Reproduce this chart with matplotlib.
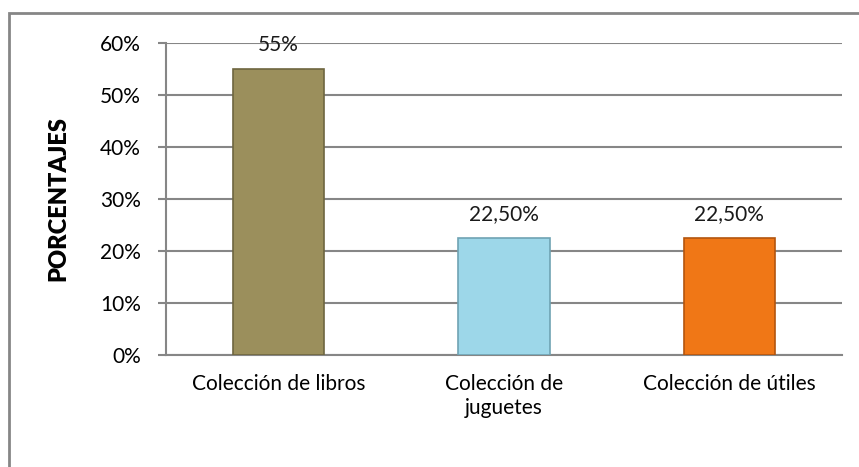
import matplotlib
matplotlib.use("Agg")
import matplotlib.pyplot as plt
from matplotlib.patches import Rectangle

categories = ["Colección de libros", "Colección de\njuguetes", "Colección de útiles"]
values = [55, 22.5, 22.5]
value_labels = ["55%", "22,50%", "22,50%"]
yticks = [0, 10, 20, 30, 40, 50, 60]
ytick_labels = ["0%", "10%", "20%", "30%", "40%", "50%", "60%"]
colors = ["#9B8F5C", "#9DD7E9", "#F07716"]
edge_colors = ["#6E6640", "#6FA3B3", "#B3550E"]

plt.rcParams['font.family'] = ['Lato', 'DejaVu Sans']

W, H = 859, 467
fig = plt.figure(figsize=(W / 100, H / 100), dpi=100)
ax = fig.add_axes([166 / W, 1 - 355 / H, (842 - 166) / W, (355 - 43) / H])

x = list(range(len(categories)))
bars = ax.bar(x, values, width=0.405, color=colors, edgecolor=edge_colors,
              linewidth=1.2, zorder=3)

for xi, v, lab in zip(x, values, value_labels):
    ax.annotate(lab, (xi, v), xytext=(0, 17), textcoords="offset points",
                ha="center", va="center", fontsize=15, color="#1a1a1a")

ax.set_xlim(-0.5, 2.5)
ax.set_ylim(0, 60)
ax.set_yticks(yticks)
ax.set_yticklabels(ytick_labels, fontsize=15)
ax.set_xticks(x)
ax.set_xticklabels(categories, fontsize=15, linespacing=1.25)
ax.tick_params(axis="x", length=0, pad=14)
ax.tick_params(axis="y", length=6, width=1.5, color="#868686", pad=12)
ax.yaxis.grid(True, color="#868686", linewidth=1.5, zorder=0)
ax.set_axisbelow(True)
for s in ["top", "right"]:
    ax.spines[s].set_visible(False)
ax.spines["left"].set_color("#868686")
ax.spines["left"].set_linewidth(1.5)
ax.spines["bottom"].set_color("#868686")
ax.spines["bottom"].set_linewidth(1.5)

ax.set_ylabel("PORCENTAJES", fontsize=17, fontweight="heavy", labelpad=22)

# outer chart border
fig.patches.append(Rectangle((9 / W, -0.1), 1.2, 1 - 13 / H + 0.1,
                             transform=fig.transFigure, fill=False,
                             edgecolor="#868686", linewidth=2))

fig.savefig("out.png", dpi=100)
